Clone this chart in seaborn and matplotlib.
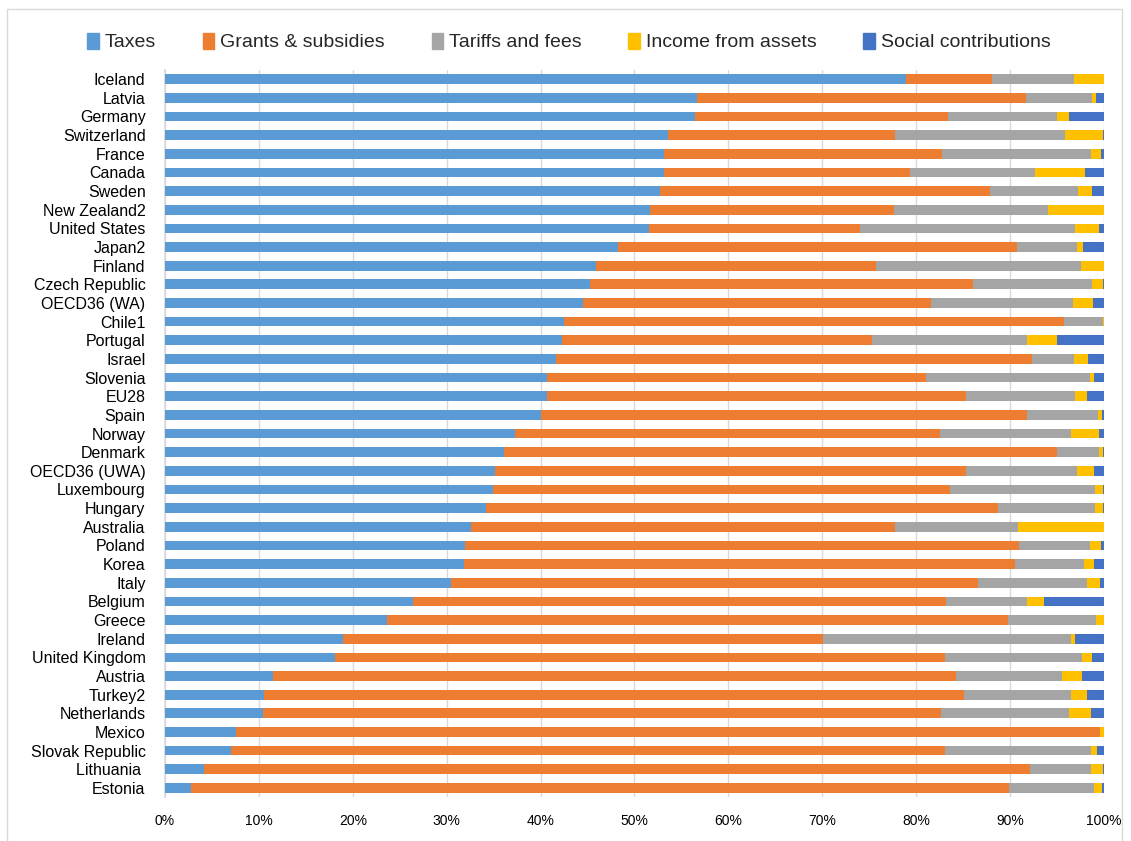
import matplotlib
matplotlib.use("Agg")
import matplotlib.pyplot as plt
import matplotlib.patches as mpatches
from matplotlib.ticker import PercentFormatter
import seaborn as sns
import pandas as pd
import numpy as np

countries = ["Iceland", "Latvia", "Germany", "Switzerland", "France", "Canada", "Sweden",
             "New Zealand2", "United States", "Japan2", "Finland", "Czech Republic",
             "OECD36 (WA)", "Chile1", "Portugal", "Israel", "Slovenia", "EU28", "Spain",
             "Norway", "Denmark", "OECD36 (UWA)", "Luxembourg", "Hungary", "Australia",
             "Poland", "Korea", "Italy", "Belgium", "Greece", "Ireland", "United Kingdom",
             "Austria", "Turkey2", "Netherlands", "Mexico", "Slovak Republic", "Lithuania ",
             "Estonia"]

taxes = [78.9, 56.7, 56.4, 53.6, 53.2, 53.2, 52.7, 51.7, 51.5, 48.3, 45.9, 45.3, 44.5,
         42.5, 42.3, 41.6, 40.7, 40.7, 40.1, 37.3, 36.1, 35.1, 34.9, 34.2, 32.6, 32.0,
         31.8, 30.5, 26.4, 23.6, 19.0, 18.1, 11.5, 10.5, 10.4, 7.6, 7.0, 4.2, 2.8]
grants = [9.2, 35.0, 27.0, 24.2, 29.6, 26.1, 35.2, 26.0, 22.5, 42.4, 29.8, 40.8, 37.1,
          53.3, 33.0, 50.7, 40.4, 44.6, 51.7, 45.2, 58.9, 50.2, 48.7, 54.5, 45.2, 59.0,
          58.7, 56.1, 56.8, 66.2, 51.1, 65.0, 72.8, 74.6, 72.3, 92.0, 76.1, 87.9, 87.1]
tariffs = [8.7, 7.0, 11.6, 18.1, 15.8, 13.4, 9.3, 16.4, 22.9, 6.4, 21.9, 12.6, 15.1,
           4.1, 16.5, 4.5, 17.4, 11.6, 7.6, 14.0, 4.5, 11.8, 15.5, 10.4, 13.1, 7.5,
           7.4, 11.6, 8.6, 9.4, 26.4, 14.6, 11.2, 11.4, 13.6, 0.0, 15.5, 6.5, 9.1]
income = [3.2, 0.5, 1.3, 4.0, 1.1, 5.3, 1.5, 5.9, 2.6, 0.7, 2.4, 1.2, 2.1,
          0.1, 3.2, 1.5, 0.5, 1.3, 0.4, 3.0, 0.4, 1.9, 0.8, 0.8, 9.1, 1.2,
          1.0, 1.4, 1.8, 0.8, 0.4, 1.0, 2.2, 1.7, 2.3, 0.4, 0.7, 1.3, 0.8]
social = [0.0, 0.8, 3.7, 0.1, 0.3, 2.0, 1.3, 0.0, 0.5, 2.2, 0.0, 0.1, 1.2,
          0.0, 5.0, 1.7, 1.0, 1.8, 0.2, 0.5, 0.1, 1.0, 0.1, 0.1, 0.0, 0.3,
          1.1, 0.4, 6.4, 0.0, 3.1, 1.3, 2.3, 1.8, 1.4, 0.0, 0.7, 0.1, 0.2]

series_names = ["Taxes", "Grants & subsidies", "Tariffs and fees", "Income from assets",
                "Social contributions"]
colors = ["#5B9BD5", "#ED7D31", "#A5A5A5", "#FFC000", "#4472C4"]

df = pd.DataFrame({"country": countries, series_names[0]: taxes, series_names[1]: grants,
                   series_names[2]: tariffs, series_names[3]: income,
                   series_names[4]: social})
vals = df[series_names].to_numpy()
vals = vals / vals.sum(axis=1, keepdims=True) * 100.0
cum = np.cumsum(vals, axis=1)

sns.set_theme(style="white")
fam = ["Liberation Sans", "DejaVu Sans"]
plt.rcParams["font.family"] = fam

fig = plt.figure(figsize=(11.31, 8.41), dpi=100)
ax = fig.add_axes([0.1459, 0.052, 0.976 - 0.1459, 0.865])

for i in range(len(series_names) - 1, -1, -1):
    sns.barplot(x=cum[:, i], y=df["country"], orient="h", color=colors[i],
                width=0.52, linewidth=0, saturation=1, ax=ax, zorder=3)

ax.set_xlim(0, 100)
ax.set_ylim(len(countries) - 0.5, -0.5)
ax.set_xticks(np.arange(0, 101, 10))
ax.xaxis.set_major_formatter(PercentFormatter(decimals=0))
ax.grid(axis="x", color="#D9D9D9", linewidth=1, zorder=0)
ax.set_axisbelow(True)
for s in ["top", "right", "bottom"]:
    ax.spines[s].set_visible(False)
ax.spines["left"].set_color("#D9D9D9")
ax.set_xlabel("")
ax.set_ylabel("")
ax.tick_params(axis="y", labelsize=11.5, length=0, pad=14)
ax.tick_params(axis="x", labelsize=10, length=0, pad=12)
for lab in ax.get_yticklabels() + ax.get_xticklabels():
    lab.set_color("#000000")

handles = [mpatches.Patch(color=c, label=n) for c, n in zip(colors, series_names)]
fig.legend(handles=handles, loc="center", bbox_to_anchor=(0.503, 0.95), ncol=5,
           frameon=False, fontsize=14, handlelength=0.6, handleheight=0.9,
           handletextpad=0.3, columnspacing=2.4)

border = mpatches.Rectangle((7 / 1131, -0.02), (1122 - 7) / 1131, 1.02 - 9 / 841,
                            transform=fig.transFigure, fill=False,
                            edgecolor="#D9D9D9", linewidth=1)
fig.patches.append(border)

fig.savefig("out.png", dpi=100, facecolor="white")
